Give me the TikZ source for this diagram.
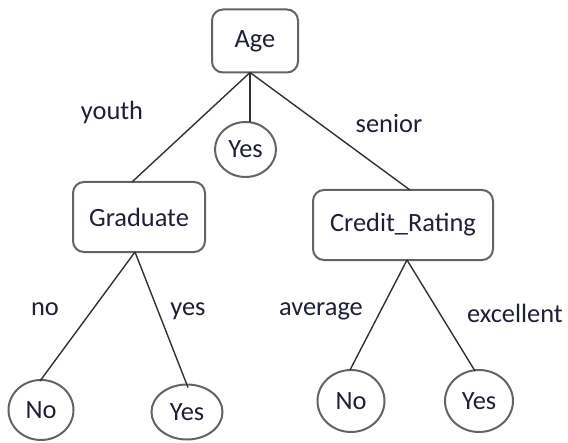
\documentclass[tikz,border=0pt]{standalone}
\usepackage{fontspec}
\setmainfont{Carlito}
\usetikzlibrary{calc,shapes.geometric}
\definecolor{txt}{RGB}{30,32,55}
\definecolor{bord}{RGB}{100,100,100}
\definecolor{edge}{RGB}{50,50,50}
\begin{document}
\begin{tikzpicture}[x=1bp,y=-1bp,
  every node/.style={font=\fontsize{26.5}{30}\selectfont, text=txt},
  attr/.style={draw=bord, line width=2bp, rounded corners=11bp, inner sep=0pt, outer sep=0pt},
  leaf/.style={draw=bord, line width=2bp, ellipse, inner sep=0pt, outer sep=0pt},
  lab/.style={anchor=base, inner sep=0pt},
  conn/.style={draw=edge, line width=1.4bp}]
\useasboundingbox (0,0) rectangle (568,443);
\fill[white] (0,0) rectangle (568,443);
% attribute boxes
\node[attr, minimum width=86bp, minimum height=63bp] (age) at (255,41) {Age};
\node[attr, minimum width=132bp, minimum height=70bp] (grad) at (139,217) {Graduate};
\node[attr, minimum width=180bp, minimum height=70bp] (cr) at (403,225) {Credit\_Rating};
% leaves
\node[leaf, minimum width=61bp, minimum height=55bp] (yes1) at (245.5,149.5) {Yes};
\node[leaf, minimum width=65bp, minimum height=60bp] (no1) at (41,410) {No};
\node[leaf, minimum width=71bp, minimum height=55bp] (yes2) at (187,412) {Yes};
\node[leaf, minimum width=67bp, minimum height=62bp] (no2) at (351,401) {No};
\node[leaf, minimum width=68bp, minimum height=62bp] (yes3) at (479,401) {Yes};
% fork points
\coordinate (agef) at ($(age.south)+(-5,0)$);
\coordinate (gradf) at ($(grad.south)+(-4,0)$);
\coordinate (crf) at ($(cr.south)+(4,0)$);
% connectors
\draw[conn] (agef) -- (agef |- yes1.north);
\draw[conn] (agef) -- ($(grad.north)+(-7,0)$);
\draw[conn] (agef) -- ($(cr.north)+(7,0)$);
\draw[conn] (gradf) -- ($(no1.north)+(-1,1)$);
\draw[conn] (gradf) -- ($(yes2.north)+(1,3)$);
\draw[conn] (crf) -- ($(no2.north)+(-1,0)$);
\draw[conn] (crf) -- ($(yes3.north)+(-4,1)$);
% branch labels
\node[lab] (lyouth) at (112,120) {youth};
\node[lab] (lsenior) at (389,133) {senior};
\node[lab] (lno) at (45,315) {no};
\node[lab] (lyes) at (188,315) {yes};
\node[lab] (lavg) at (321,315) {average};
\node[lab] (lexc) at (515,322) {excellent};
\end{tikzpicture}
\end{document}
